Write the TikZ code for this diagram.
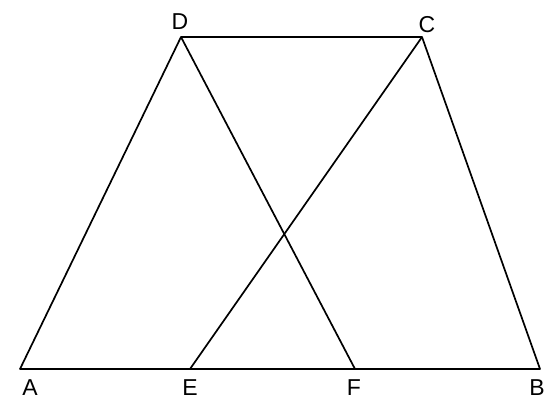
\documentclass[tikz,border=0pt]{standalone}
\usepackage{fontspec}
\setmainfont{Liberation Sans}
\begin{document}
\begin{tikzpicture}[x=1pt, y=-1pt, line width=1.7pt, line join=round]
	\useasboundingbox (0, 0) rectangle (553, 415);
	\coordinate (A) at (20, 369);
	\coordinate (E) at (190, 369);
	\coordinate (F) at (355, 369);
	\coordinate (B) at (540, 369);
	\coordinate (D) at (181, 37);
	\coordinate (C) at (422, 37);
	\draw (A) -- (B) -- (C) -- (D) -- cycle;
	\draw (D) -- (F);
	\draw (E) -- (C);
	\node[font=\fontsize{23}{27}\selectfont] (lA) at (30, 388) {A};
	\node[font=\fontsize{23}{27}\selectfont] (lE) at (190, 388) {E};
	\node[font=\fontsize{23}{27}\selectfont] (lF) at (354, 388) {F};
	\node[font=\fontsize{23}{27}\selectfont] (lB) at (537, 388) {B};
	\node[font=\fontsize{23}{27}\selectfont] (lD) at (180, 22) {D};
	\node[font=\fontsize{23}{27}\selectfont] (lC) at (427, 25) {C};
\end{tikzpicture}
\end{document}
